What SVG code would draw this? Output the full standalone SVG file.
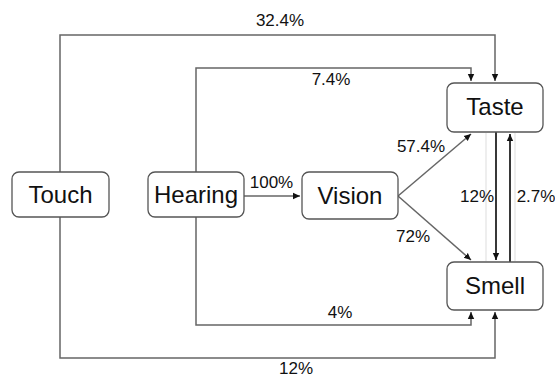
<svg xmlns="http://www.w3.org/2000/svg" width="555" height="379" viewBox="0 0 555 379">
<defs>
<marker id="ah" markerWidth="8" markerHeight="8" refX="7" refY="4" orient="auto" markerUnits="userSpaceOnUse">
<path d="M0,0.8 L7,4 L0,7.2 Z" fill="#111"/>
</marker>
<style>
.node rect{fill:#fff;stroke:#555;stroke-width:1.3}
.node text{font-family:"Liberation Sans",Arial,sans-serif;font-size:24px;fill:#111;text-anchor:middle}
.e{fill:none;stroke:#666;stroke-width:1.5}
.ed{fill:none;stroke:#222;stroke-width:1.8}
.faint{stroke:#ddd;stroke-width:1}
.lbl{font-family:"Liberation Sans",Arial,sans-serif;font-size:17px;fill:#111;text-anchor:middle}
</style>
</defs>
<rect width="555" height="379" fill="#fff"/>
<g id="connectors">
<path class="e" d="M60,172 V35 H495 V81" marker-end="url(#ah)"/>
<path class="e" d="M196,172 V68 H471 V81" marker-end="url(#ah)"/>
<path class="e" d="M196,217 V325 H471 V312" marker-end="url(#ah)"/>
<path class="e" d="M60,217 V358 H495 V312" marker-end="url(#ah)"/>
<path class="e" d="M244,196 H300" marker-end="url(#ah)"/>
<path class="e" d="M398,196 L471,134" marker-end="url(#ah)"/>
<path class="e" d="M398,196 L471,260" marker-end="url(#ah)"/>
<line class="faint" x1="486" y1="133" x2="486" y2="261"/>
<line class="faint" x1="515" y1="133" x2="515" y2="261"/>
<path class="ed" d="M496,132 V260" marker-end="url(#ah)"/>
<path class="ed" d="M510,262 V134" marker-end="url(#ah)"/>
<text class="lbl" x="280" y="26">32.4%</text>
<text class="lbl" x="331" y="85">7.4%</text>
<text class="lbl" x="340" y="318">4%</text>
<text class="lbl" x="296" y="374">12%</text>
<text class="lbl" x="271.5" y="188">100%</text>
<text class="lbl" x="421" y="152">57.4%</text>
<text class="lbl" x="413" y="242">72%</text>
<text class="lbl" x="477" y="202">12%</text>
<text class="lbl" x="536" y="202">2.7%</text>
</g>
<g id="touch" class="node"><rect x="12" y="172" width="97" height="45" rx="7"/><text x="60.5" y="203">Touch</text></g>
<g id="hearing" class="node"><rect x="148" y="172" width="96" height="45" rx="7"/><text x="196" y="203">Hearing</text></g>
<g id="vision" class="node"><rect x="302" y="172" width="96" height="47" rx="7"/><text x="350" y="204">Vision</text></g>
<g id="taste" class="node"><rect x="447" y="83" width="96" height="49" rx="7"/><text x="495" y="115">Taste</text></g>
<g id="smell" class="node"><rect x="447" y="262" width="96" height="48" rx="7"/><text x="495" y="294">Smell</text></g>
</svg>
